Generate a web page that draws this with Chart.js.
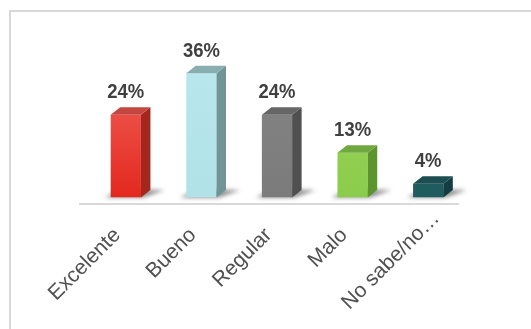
<!DOCTYPE html>
<html>
<head>
<meta charset="utf-8">
<script src="https://cdn.jsdelivr.net/npm/chart.js@4/dist/chart.umd.min.js"></script>
<style>
  html, body { margin: 0; padding: 0; background: #ffffff; }
  #wrap { width: 531px; height: 329px; }
</style>
</head>
<body>
<div id="wrap"><canvas id="c" width="531" height="329"></canvas></div>
<script>
// ---- data ----
const categories = ['Excelente', 'Bueno', 'Regular', 'Malo', 'No sabe/no…'];
const values = [24, 36, 24, 13, 4];
const valueLabels = ['24%', '36%', '24%', '13%', '4%'];

// ---- styles ----
const frontTop    = ['#f2665f', '#b8e7ec', '#858585', '#98d45a', '#246468'];
const frontBottom = ['#e3281e', '#b0e2e7', '#7b7b7b', '#8ccc4c', '#1f5b5f'];
const sideColors  = ['#a5261d', '#6f9598', '#505050', '#5e9430', '#133d41'];
const topColors   = ['#c3463f', '#88aeb2', '#666666', '#6fa83e', '#1c4d51'];
const DEPTH_X = 9.5, DEPTH_Y = 7.5;

const frontGradient = (ctx) => {
  const chart = ctx.chart;
  const area = chart.chartArea;
  if (!area) return frontBottom[ctx.dataIndex];
  const el = ctx.element;
  const yTop = el && isFinite(el.y) ? el.y : area.top;
  const g = chart.ctx.createLinearGradient(0, yTop, 0, area.bottom);
  g.addColorStop(0, frontTop[ctx.dataIndex]);
  g.addColorStop(1, frontBottom[ctx.dataIndex]);
  return g;
};

const decorPlugin = {
  id: 'decor',
  beforeDraw(chart) {
    const c = chart.ctx;
    c.save();
    c.strokeStyle = '#d9d9d9';
    c.lineWidth = 2;
    c.beginPath();
    c.moveTo(10, 329);
    c.lineTo(10, 11);
    c.lineTo(531, 11);
    c.stroke();
    c.restore();
  },
  beforeDatasetsDraw(chart) {
    const c = chart.ctx;
    const meta = chart.getDatasetMeta(0);
    c.save();
    c.filter = 'blur(2px)';
    meta.data.forEach((bar) => {
      const x0 = bar.x - bar.width / 2, x1 = bar.x + bar.width / 2;
      const b = bar.base;
      c.fillStyle = 'rgba(40,40,40,0.55)';
      c.beginPath();
      c.moveTo(x0 - 6, b);
      c.lineTo(x1 + 2, b);
      c.lineTo(x1 + DEPTH_X + 14, b - DEPTH_Y);
      c.lineTo(x0 + DEPTH_X, b - DEPTH_Y);
      c.closePath();
      c.fill();
    });
    c.restore();
  },
  afterDatasetsDraw(chart) {
    const c = chart.ctx;
    const meta = chart.getDatasetMeta(0);
    const area = chart.chartArea;
    c.save();
    meta.data.forEach((bar, i) => {
      const x0 = bar.x - bar.width / 2, x1 = bar.x + bar.width / 2;
      const yT = bar.y, b = bar.base;
      // side face
      c.fillStyle = sideColors[i];
      c.beginPath();
      c.moveTo(x1, yT);
      c.lineTo(x1 + DEPTH_X, yT - DEPTH_Y);
      c.lineTo(x1 + DEPTH_X, b - DEPTH_Y);
      c.lineTo(x1, b);
      c.closePath();
      c.fill();
      // top face
      c.fillStyle = topColors[i];
      c.beginPath();
      c.moveTo(x0, yT);
      c.lineTo(x1, yT);
      c.lineTo(x1 + DEPTH_X, yT - DEPTH_Y);
      c.lineTo(x0 + DEPTH_X, yT - DEPTH_Y);
      c.closePath();
      c.fill();
    });
    // floor line
    c.strokeStyle = '#d9d9d9';
    c.lineWidth = 2;
    c.beginPath();
    c.moveTo(area.left - 9, area.bottom + 6.5);
    c.lineTo(area.right - 7, area.bottom + 6.5);
    c.stroke();
    // value labels (slightly condensed bold)
    c.fillStyle = '#404040';
    c.font = 'bold 21px "Liberation Sans", Arial, sans-serif';
    c.textAlign = 'center';
    c.textBaseline = 'alphabetic';
    meta.data.forEach((bar, i) => {
      c.save();
      c.translate(bar.x, bar.y - 16.7);
      c.scale(0.88, 1);
      c.fillText(valueLabels[i], 0, 0);
      c.restore();
    });
    c.restore();
  }
};

new Chart(document.getElementById('c'), {
  type: 'bar',
  data: {
    labels: categories,
    datasets: [{
      data: values,
      backgroundColor: frontGradient,
      borderWidth: 0,
      categoryPercentage: 1,
      barPercentage: 0.4
    }]
  },
  options: {
    responsive: false,
    devicePixelRatio: 1,
    animation: false,
    layout: { padding: { left: 88, right: 65, top: 59.5, bottom: 0 } },
    plugins: { legend: { display: false }, tooltip: { enabled: false } },
    scales: {
      y: { display: false, min: 0, max: 40 },
      x: {
        grid: { display: false },
        border: { display: false },
        ticks: {
          color: '#505050',
          font: { family: '"Liberation Sans", Arial, sans-serif', size: 21 },
          maxRotation: 45,
          minRotation: 45,
          autoSkip: false,
          labelOffset: 8,
          padding: 1,
          callback(value, index) {
            const l = this.getLabelForValue(value);
            // truncated last label sits further along its diagonal
            return index < categories.length - 1 ? l + '\u00a0\u00a0\u00a0\u00a0' : l;
          }
        },
        afterFit(scale) { scale.height = 329 - 197.5; }
      }
    }
  },
  plugins: [decorPlugin]
});
</script>
</body>
</html>
